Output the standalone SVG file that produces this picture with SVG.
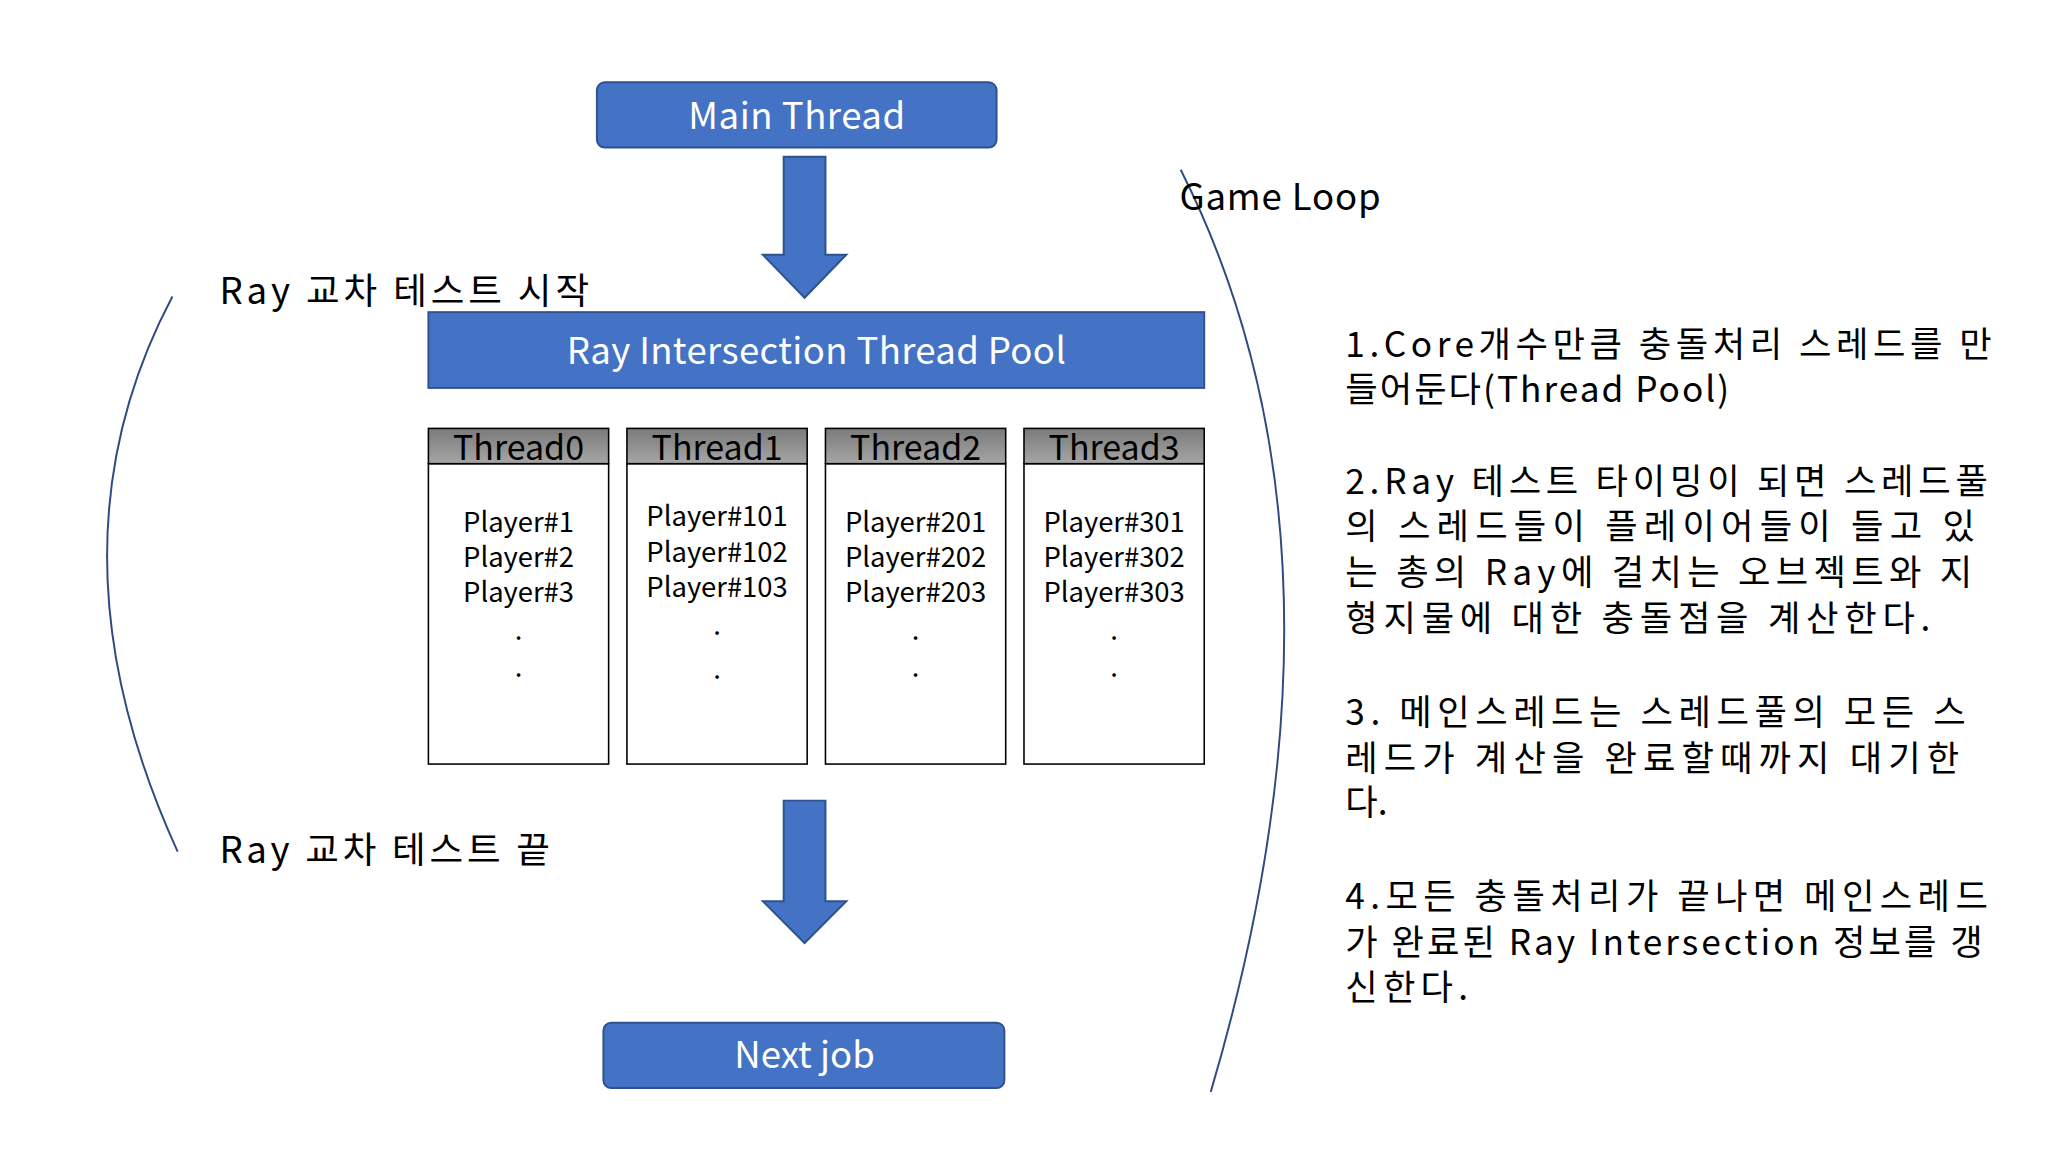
<svg xmlns="http://www.w3.org/2000/svg" width="2048" height="1152" viewBox="0 0 2048 1152">
<defs>
<style>
text{font-family:"Noto Sans CJK KR","Noto Sans",sans-serif;}
.blue{fill:#4472C4;stroke:#2F528F;stroke-width:1.5}
.wt{fill:#fff;font-size:28px;text-anchor:middle}
.hd{fill:url(#g);stroke:#000;stroke-width:1.2}
.bd{fill:#fff;stroke:#000;stroke-width:1.2}
.ht{fill:#000;font-size:26px;text-anchor:middle}
.pt{fill:#000;font-size:21px;text-anchor:middle}
.lbl{fill:#000;font-size:28px}
.rt{fill:#000;font-size:27px}
.arc{fill:none;stroke:#2F4A80;stroke-width:1.5}
</style>
<linearGradient id="g" x1="0" y1="0" x2="0" y2="1"><stop offset="0" stop-color="#7a7a7a"/><stop offset="1" stop-color="#a6a6a6"/></linearGradient>
</defs>
<rect width="2048" height="1152" fill="#fff"/>
<g transform="scale(1.3061)">
<g id="main"><rect class="blue" x="457" y="63" width="306" height="50" rx="6"/><text class="wt" x="610" y="99" textLength="166" lengthAdjust="spacing">Main Thread</text></g>
<g id="pool"><rect class="blue" x="328" y="239" width="594" height="58"/><text class="wt" x="625" y="279" textLength="382" lengthAdjust="spacing">Ray Intersection Thread Pool</text></g>
<g id="t0"><rect class="bd" x="328" y="355" width="138" height="230"/><rect class="hd" x="328" y="328" width="138" height="27"/><text class="ht" x="397" y="352">Thread0</text>
<text class="pt" x="397" y="407">Player#1</text><text class="pt" x="397" y="434">Player#2</text><text class="pt" x="397" y="461">Player#3</text><text class="pt" x="397" y="490">.</text><text class="pt" x="397" y="518">.</text></g>
<g id="t1"><rect class="bd" x="480" y="355" width="138" height="230"/><rect class="hd" x="480" y="328" width="138" height="27"/><text class="ht" x="549" y="352">Thread1</text>
<text class="pt" x="549" y="403">Player#101</text><text class="pt" x="549" y="430">Player#102</text><text class="pt" x="549" y="457">Player#103</text><text class="pt" x="549" y="486">.</text><text class="pt" x="549" y="520">.</text></g>
<g id="t2"><rect class="bd" x="632" y="355" width="138" height="230"/><rect class="hd" x="632" y="328" width="138" height="27"/><text class="ht" x="701" y="352">Thread2</text>
<text class="pt" x="701" y="407">Player#201</text><text class="pt" x="701" y="434">Player#202</text><text class="pt" x="701" y="461">Player#203</text><text class="pt" x="701" y="490">.</text><text class="pt" x="701" y="518">.</text></g>
<g id="t3"><rect class="bd" x="784" y="355" width="138" height="230"/><rect class="hd" x="784" y="328" width="138" height="27"/><text class="ht" x="853" y="352">Thread3</text>
<text class="pt" x="853" y="407">Player#301</text><text class="pt" x="853" y="434">Player#302</text><text class="pt" x="853" y="461">Player#303</text><text class="pt" x="853" y="490">.</text><text class="pt" x="853" y="518">.</text></g>
<g id="next"><rect class="blue" x="462" y="783" width="307" height="50" rx="6"/><text class="wt" x="616" y="818">Next job</text></g>
<g id="connectors">
<path class="blue" d="M600 120H632V195H648L616 228L584 195H600Z"/>
<path class="blue" d="M600 613H632V690H648L616 722L584 690H600Z"/>
<path class="arc" d="M132 227Q30 420 136 652"/>
<path class="arc" d="M904 130Q1050 420 927 836"/>
</g>
<g id="labels">
<text class="lbl" x="168" y="233" textLength="283" lengthAdjust="spacing">Ray 교차 테스트 시작</text>
<text class="lbl" x="168" y="661" textLength="253" lengthAdjust="spacing">Ray 교차 테스트 끝</text>
<text class="lbl" x="903" y="161" textLength="154" lengthAdjust="spacing">Game Loop</text>
<text class="rt" x="1030" y="273" textLength="495" lengthAdjust="spacing">1.Core개수만큼 충돌처리 스레드를 만</text>
<text class="rt" x="1030" y="308" textLength="294" lengthAdjust="spacing">들어둔다(Thread Pool)</text>
<text class="rt" x="1030" y="378" textLength="492" lengthAdjust="spacing">2.Ray 테스트 타이밍이 되면 스레드풀</text>
<text class="rt" x="1030" y="413" textLength="482" lengthAdjust="spacing">의 스레드들이 플레이어들이 들고 있</text>
<text class="rt" x="1030" y="448" textLength="480" lengthAdjust="spacing">는 총의 Ray에 걸치는 오브젝트와 지</text>
<text class="rt" x="1030" y="483" textLength="448" lengthAdjust="spacing">형지물에 대한 충돌점을 계산한다.</text>
<text class="rt" x="1030" y="555" textLength="475" lengthAdjust="spacing">3. 메인스레드는 스레드풀의 모든 스</text>
<text class="rt" x="1030" y="590" textLength="470" lengthAdjust="spacing">레드가 계산을 완료할때까지 대기한</text>
<text class="rt" x="1030" y="624">다.</text>
<text class="rt" x="1030" y="696" textLength="492" lengthAdjust="spacing">4.모든 충돌처리가 끝나면 메인스레드</text>
<text class="rt" x="1030" y="731" textLength="488" lengthAdjust="spacing">가 완료된 Ray Intersection 정보를 갱</text>
<text class="rt" x="1030" y="766" textLength="94" lengthAdjust="spacing">신한다.</text>
</g>
</g>
</svg>
